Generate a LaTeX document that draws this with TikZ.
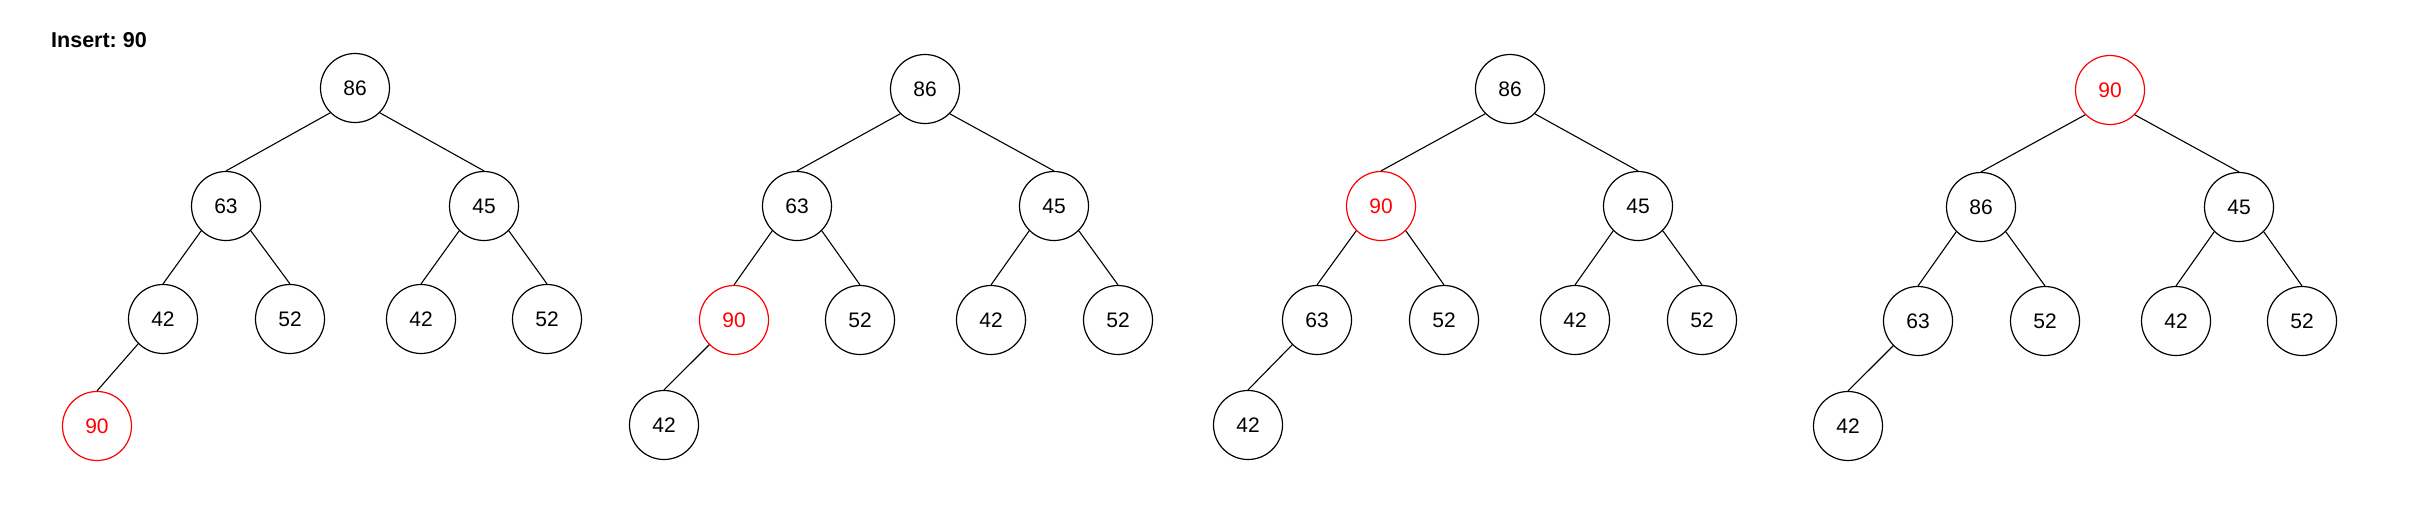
\documentclass[tikz,border=0pt]{standalone}
\usepackage{fontspec}
\setmainfont{Liberation Sans}
\usepackage{tikz}
\usetikzlibrary{positioning}
\definecolor{hotred}{HTML}{FF0000}

\begin{document}
\frenchspacing
\begin{tikzpicture}[x=1pt,y=-1pt,
  key/.style={draw,circle,minimum size=69pt,inner sep=0pt,line width=1.2pt,
    font=\fontsize{21}{21}\selectfont},
  moved/.style={draw=hotred,text=hotred},
  edge/.style={line width=1.1pt},
  title/.style={font=\fontsize{21.5}{21.5}\selectfont\bfseries,anchor=base west,inner sep=0pt}]

  \useasboundingbox (0,0) rectangle (2431,525);

  \node[title] (caption) at (51,47.7) {Insert: 90};

  \node[key] (a1) at (355,88)  {86};
  \node[key] (a2) at (226,206) {63};
  \node[key] (a3) at (484,206) {45};
  \node[key] (a4) at (163,319) {42};
  \node[key] (a5) at (290,319) {52};
  \node[key] (a6) at (421,319) {42};
  \node[key] (a7) at (547,319) {52};
  \node[key,moved] (a8) at (97,426) {90};
  \draw[edge] (a1.south west) -- (a2.north) (a1.south east) -- (a3.north)
    (a2.south west) -- (a4.north) (a2.south east) -- (a5.north)
    (a3.south west) -- (a6.north) (a3.south east) -- (a7.north)
    (a4.south west) -- (a8.north);

  \node[key] (b1) at (925,89)  {86};
  \node[key] (b2) at (797,206) {63};
  \node[key] (b3) at (1054,206){45};
  \node[key,moved] (b4) at (734,320) {90};
  \node[key] (b5) at (860,320) {52};
  \node[key] (b6) at (991,320) {42};
  \node[key] (b7) at (1118,320){52};
  \node[key] (b8) at (664,425) {42};
  \draw[edge] (b1.south west) -- (b2.north) (b1.south east) -- (b3.north)
    (b2.south west) -- (b4.north) (b2.south east) -- (b5.north)
    (b3.south west) -- (b6.north) (b3.south east) -- (b7.north)
    (b4.south west) -- (b8.north);

  \node[key] (c1) at (1510,89)  {86};
  \node[key,moved] (c2) at (1381,206) {90};
  \node[key] (c3) at (1638,206) {45};
  \node[key] (c4) at (1317,320) {63};
  \node[key] (c5) at (1444,320) {52};
  \node[key] (c6) at (1575,320) {42};
  \node[key] (c7) at (1702,320) {52};
  \node[key] (c8) at (1248,425) {42};
  \draw[edge] (c1.south west) -- (c2.north) (c1.south east) -- (c3.north)
    (c2.south west) -- (c4.north) (c2.south east) -- (c5.north)
    (c3.south west) -- (c6.north) (c3.south east) -- (c7.north)
    (c4.south west) -- (c8.north);

  \node[key,moved] (d1) at (2110,90) {90};
  \node[key] (d2) at (1981,207) {86};
  \node[key] (d3) at (2239,207) {45};
  \node[key] (d4) at (1918,321) {63};
  \node[key] (d5) at (2045,321) {52};
  \node[key] (d6) at (2176,321) {42};
  \node[key] (d7) at (2302,321) {52};
  \node[key] (d8) at (1848,426) {42};
  \draw[edge] (d1.south west) -- (d2.north) (d1.south east) -- (d3.north)
    (d2.south west) -- (d4.north) (d2.south east) -- (d5.north)
    (d3.south west) -- (d6.north) (d3.south east) -- (d7.north)
    (d4.south west) -- (d8.north);
\end{tikzpicture}
\end{document}
